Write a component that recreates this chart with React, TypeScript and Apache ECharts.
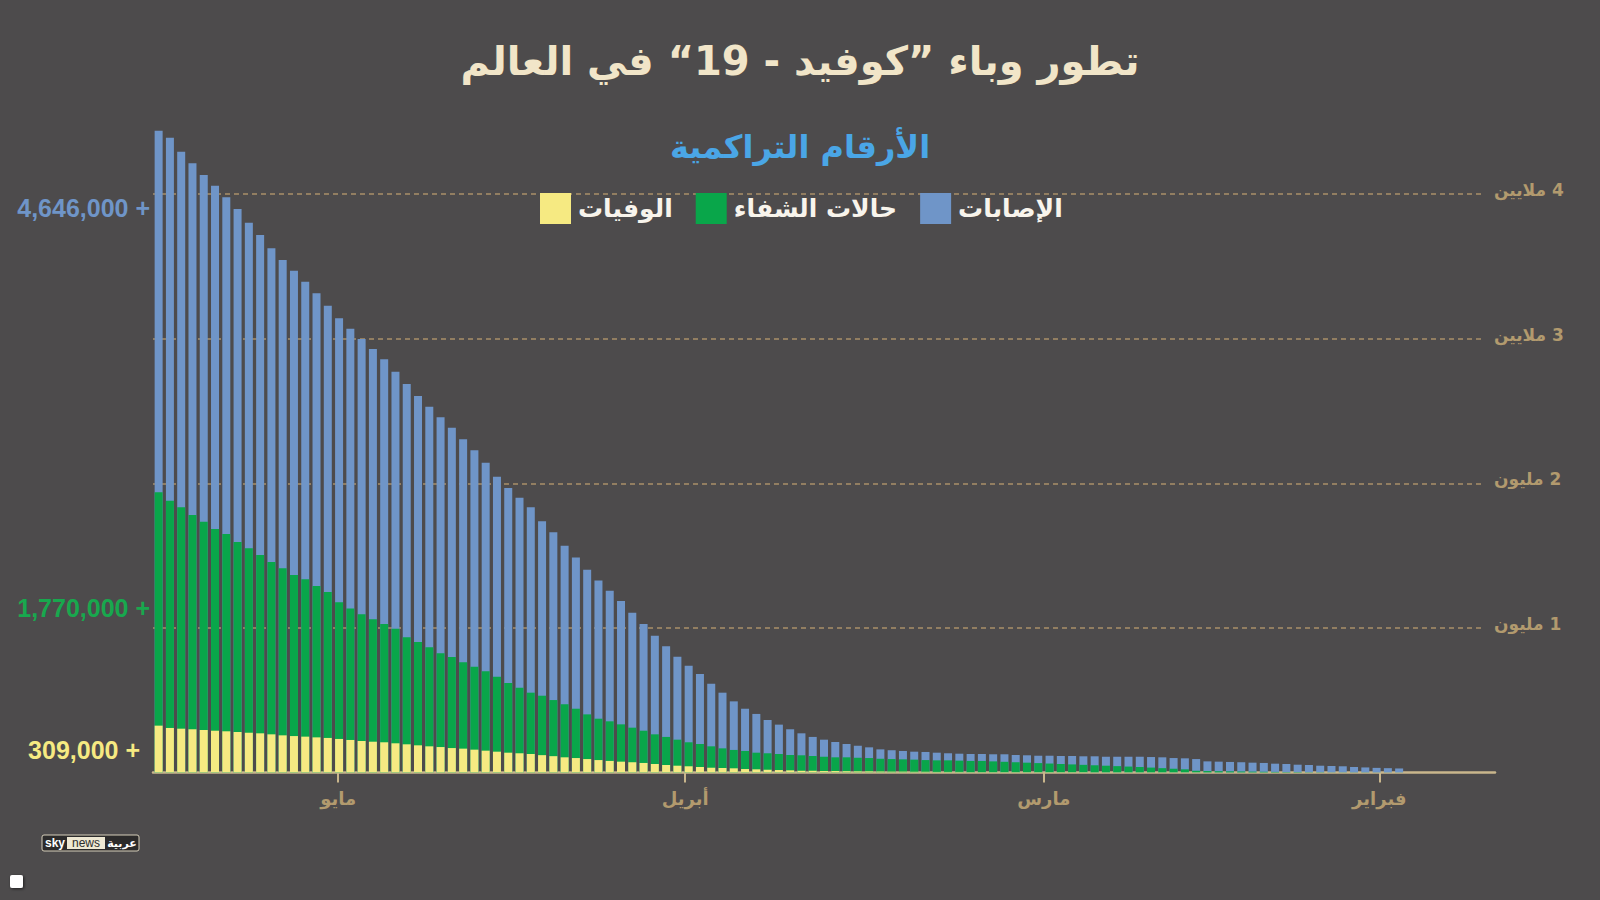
import React, { useEffect, useRef } from "react";
import * as echarts from "echarts";

// ---------- DATA (values in thousands, newest day first: left to right) ----------
const casesK: (number | null)[] = [
  4438, 4390, 4293, 4213, 4132, 4058, 3978, 3897, 3802, 3717,
  3625, 3544, 3470, 3394, 3314, 3228, 3141, 3069, 2998, 2929,
  2858, 2772, 2687, 2604, 2530, 2456, 2385, 2304, 2228, 2142,
  2046, 1968, 1900, 1834, 1737, 1661, 1568, 1486, 1403, 1327,
  1257, 1186, 1105, 1027, 946, 873, 801, 739, 681, 614,
  552, 492, 441, 405, 363, 331, 299, 271, 246, 227,
  211, 197, 185, 174, 160, 154, 149, 144, 142, 137,
  133, 130, 128, 128, 126, 126, 121, 119, 116, 116,
  114, 114, 112, 112, 109, 109, 109, 109, 107, 105,
  100, 98, 93, 77, 75, 73, 71, 68, 66, 61,
  59, 54, 52, 47, 45, 43, 38, 35, 32, 30, 28,
  null, null, null, null, null, null, null, null,
];

const recoveredK: (number | null)[] = [
  1938, 1880, 1834, 1781, 1734, 1684, 1649, 1594, 1550, 1504,
  1456, 1412, 1366, 1336, 1290, 1248, 1177, 1135, 1094, 1059,
  1027, 994, 935, 902, 866, 824, 799, 762, 732, 700,
  663, 619, 586, 552, 531, 501, 472, 441, 402, 372,
  354, 333, 310, 289, 264, 246, 227, 209, 197, 181,
  167, 156, 149, 137, 133, 128, 121, 119, 114, 109,
  105, 105, 102, 100, 95, 93, 91, 89, 86, 84,
  84, 82, 80, 80, 77, 74, 71, 68, 65, 62,
  59, 56, 53, 50, 47, 44, 41, 38, 34, 30,
  26, 22, 12, 10, 9, 8, 7, 6, 5, 4,
  3, 3, 2, 2, 1, 1, 1, 1, 0.5, 0.5, 0.5,
  null, null, null, null, null, null, null, null,
];

const deathsK: (number | null)[] = [
  324, 308, 303, 299, 294, 289, 285, 280, 275, 271,
  264, 257, 252, 248, 243, 239, 232, 225, 218, 213,
  209, 202, 195, 188, 181, 176, 169, 165, 158, 151,
  144, 137, 133, 128, 120, 113, 105, 100, 93, 86,
  80, 75, 71, 66, 59, 52, 47, 43, 38, 33,
  31, 29, 24, 22, 19, 17, 15, 12, 12, 10,
  10, 9, 8, 8, 7, 6, 6, 5, 5, 4,
  4, 4, 3, 3, 3, 3, 3, 3, 3, 3,
  3, 3, 3, 2, 2, 2, 2, 2, 2, 2,
  2, 2, 2, 1, 1, 1, 1, 1, 1, 1,
  1, 1, 1, 1, 1, 1, 0.5, 0.5, 0.5, 0.5, 0.5,
  null, null, null, null, null, null, null, null,
];

const seriesNames = ["الإصابات", "حالات الشفاء", "الوفيات"];
const legendOrder = ["الوفيات", "حالات الشفاء", "الإصابات"];
const totalsText = ["4,646,000 +", "1,770,000 +", "309,000 +"];
const monthNames = ["يناير", "فبراير", "مارس", "أبريل", "مايو", "يونيو"];
const yTickLabels: Record<number, string> = {
  1000: "\u200F1 مليون",
  2000: "\u200F2 مليون",
  3000: "\u200F3 ملايين",
  4000: "\u200F4 ملايين",
};
const titleText = "تطور وباء ”كوفيد - 19“ في العالم";
const subtitleText = "الأرقام التراكمية";

// category labels (dates), newest first
function makeDates(startUTC: number, count: number): string[] {
  const out: string[] = [];
  for (let i = 0; i < count; i++) {
    const d = new Date(startUTC - i * 86400000);
    const m = String(d.getUTCMonth() + 1).padStart(2, "0");
    const dd = String(d.getUTCDate()).padStart(2, "0");
    out.push(`${d.getUTCFullYear()}-${m}-${dd}`);
  }
  return out;
}
const barDates = makeDates(Date.UTC(2020, 4, 17), casesK.length); // May 17 -> Jan 20
const dayStarts = makeDates(Date.UTC(2020, 4, 17), 117); // May 17 -> Jan 22 (day boundaries)

// ---------- STYLE ----------
const BG = "#4d4b4c";
const BLUE = "#6f95c8";
const GREEN = "#09a64a";
const YELLOW = "#f6ea82";
const TAN = "#b29a6e";
const AXIS = "#c9b68c";
const ARABIC = "DejaVu Sans";
const LATIN = "Liberation Sans";

const GRID_TOP = 49.5;
const GRID_BOTTOM = 127.5;

export default function App() {
  const ref = useRef<HTMLDivElement | null>(null);

  useEffect(() => {
    if (!ref.current) return;
    const chart = echarts.init(ref.current, undefined, { renderer: "svg" });

    const isMonthStart = (_i: number, v: string) => typeof v === "string" && v.endsWith("-01");

    const option: any = {
      animation: false,
      backgroundColor: BG,
      title: [
        {
          text: titleText,
          left: "center",
          top: 36,
          textStyle: { color: "#f1e5c8", fontSize: 40, fontWeight: "bold", fontFamily: ARABIC },
        },
        {
          text: subtitleText,
          left: "center",
          top: 126,
          textStyle: { color: "#4aa6e6", fontSize: 32, fontWeight: "bold", fontFamily: ARABIC },
        },
      ],
      legend: {
        data: legendOrder,
        left: 540,
        top: 193,
        padding: 0,
        itemWidth: 31,
        itemHeight: 31,
        itemGap: 23,
        icon: "rect",
        textStyle: { color: "#f8f4ec", fontSize: 25, fontWeight: "bold", fontFamily: ARABIC, padding: [0, 0, 0, 2] },
        selectedMode: false,
      },
      grid: [
        { left: 153, right: 105, top: GRID_TOP, bottom: GRID_BOTTOM },
        { left: 153, right: 118, top: GRID_TOP, bottom: GRID_BOTTOM },
      ],
      xAxis: [
        {
          type: "category",
          gridIndex: 0,
          data: barDates,
          show: false,
          boundaryGap: true,
        },
        {
          type: "category",
          gridIndex: 0,
          data: dayStarts,
          boundaryGap: false,
          position: "bottom",
          axisLine: { show: true, lineStyle: { color: AXIS, width: 2.5 } },
          axisTick: { show: true, interval: isMonthStart, length: 10, lineStyle: { color: AXIS, width: 2 } },
          axisLabel: {
            interval: isMonthStart,
            margin: 17,
            color: TAN,
            fontSize: 18,
            fontWeight: "bold",
            fontFamily: ARABIC,
            formatter: (v: string) => monthNames[Number(v.slice(5, 7)) - 1],
          },
          splitLine: { show: false },
        },
        { type: "value", gridIndex: 1, show: false, min: 0, max: 1 },
      ],
      yAxis: [
        { type: "value", gridIndex: 0, min: 0, max: 5000, interval: 1000, show: false },
        {
          type: "value",
          gridIndex: 1,
          min: 0,
          max: 5000,
          interval: 1000,
          position: "right",
          axisLine: { show: false },
          axisTick: { show: false },
          axisLabel: {
            margin: 12,
            color: TAN,
            fontSize: 17,
            fontWeight: "bold",
            fontFamily: ARABIC,
            verticalAlign: "bottom",
            lineHeight: 8,
            formatter: (v: number) => yTickLabels[v] || "",
          },
          splitLine: {
            show: true,
            showMinLine: false,
            showMaxLine: false,
            lineStyle: { color: "#a99068", type: [5, 4], width: 1.5 },
          },
        },
      ],
      series: [
        {
          name: seriesNames[0],
          type: "bar",
          xAxisIndex: 0,
          yAxisIndex: 0,
          data: casesK,
          barWidth: 8,
          barGap: "-100%",
          itemStyle: { color: BLUE },
        },
        {
          name: seriesNames[1],
          type: "bar",
          xAxisIndex: 0,
          yAxisIndex: 0,
          data: recoveredK,
          barWidth: 8,
          barGap: "-100%",
          itemStyle: { color: GREEN },
        },
        {
          name: seriesNames[2],
          type: "bar",
          xAxisIndex: 0,
          yAxisIndex: 0,
          data: deathsK,
          barWidth: 8,
          barGap: "-100%",
          itemStyle: { color: YELLOW },
        },
      ],
      graphic: [
        {
          type: "text",
          x: 150,
          y: 208,
          style: {
            text: totalsText[0], fill: BLUE, font: `bold 25px "${LATIN}"`,
            align: "right", verticalAlign: "middle", textAlign: "right", textVerticalAlign: "middle",
          },
        },
        {
          type: "text",
          x: 150,
          y: 608,
          style: {
            text: totalsText[1], fill: "#18a84e", font: `bold 25px "${LATIN}"`,
            align: "right", verticalAlign: "middle", textAlign: "right", textVerticalAlign: "middle",
          },
        },
        {
          type: "text",
          x: 140,
          y: 750,
          style: {
            text: totalsText[2], fill: YELLOW, font: `bold 25px "${LATIN}"`,
            align: "right", verticalAlign: "middle", textAlign: "right", textVerticalAlign: "middle",
          },
        },
        {
          type: "group",
          x: 42,
          y: 835,
          children: [
            { type: "rect", shape: { x: 0, y: 0, width: 97, height: 16, r: 2 }, style: { fill: "#2c2b2b", stroke: "#d6cfba", lineWidth: 1 } },
            { type: "text", x: 3, y: 8, style: { text: "sky", fill: "#ffffff", font: `bold 12px "${LATIN}"`, verticalAlign: "middle", textVerticalAlign: "middle" } },
            { type: "rect", shape: { x: 25, y: 2, width: 38, height: 12 }, style: { fill: "#eee8d3" } },
            { type: "text", x: 44, y: 8, style: { text: "news", fill: "#2c2b2b", font: `12px "${LATIN}"`, align: "center", verticalAlign: "middle", textAlign: "center", textVerticalAlign: "middle" } },
            { type: "text", x: 80, y: 8, style: { text: "عربية", fill: "#ffffff", font: `bold 11px "${ARABIC}"`, align: "center", verticalAlign: "middle", textAlign: "center", textVerticalAlign: "middle" } },
          ],
        },
        {
          type: "rect",
          shape: { x: 10, y: 875, width: 13, height: 13, r: 2 },
          style: { fill: "#ffffff", shadowBlur: 3, shadowColor: "rgba(0,0,0,0.6)", shadowOffsetX: 1, shadowOffsetY: 1 },
        },
      ],
    };

    chart.setOption(option);
    return () => chart.dispose();
  }, []);

  return (
    <div
      ref={ref}
      style={{ position: "fixed", left: 0, top: 0, width: 1600, height: 900 }}
    />
  );
}
